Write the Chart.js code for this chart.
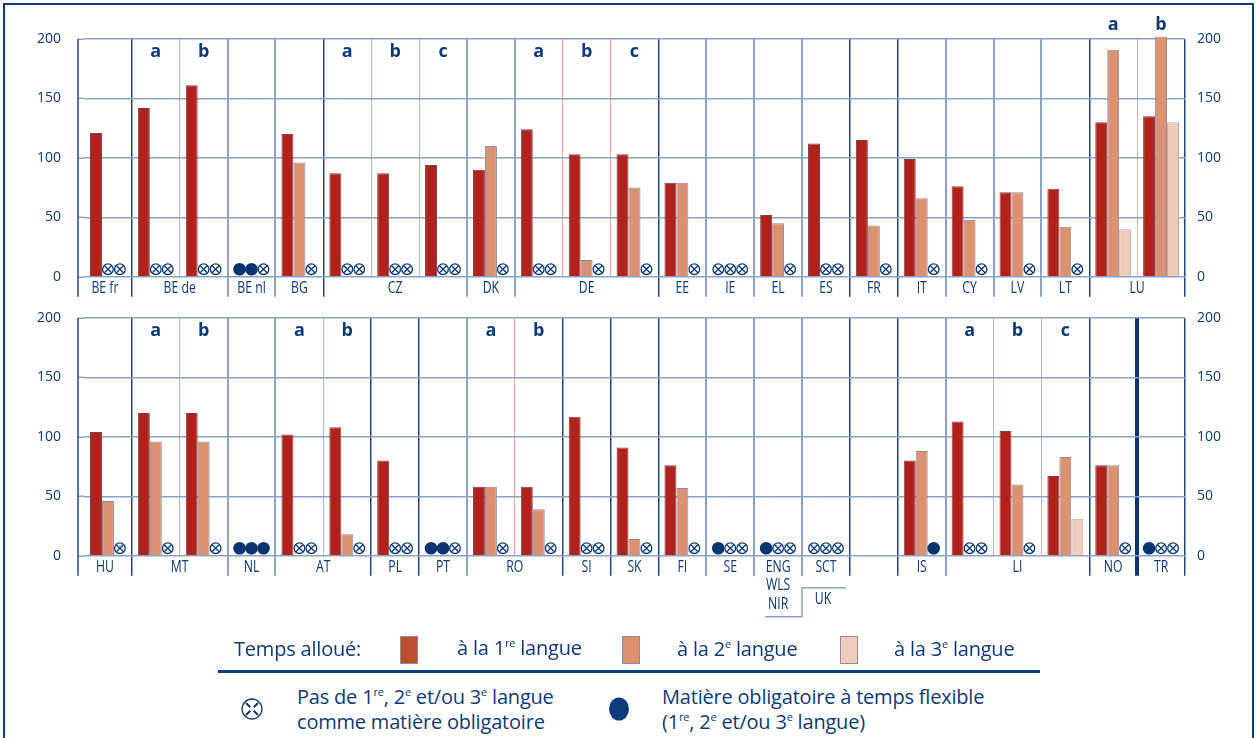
<!DOCTYPE html>
<html>
<head>
<meta charset="utf-8">
<script src="https://cdn.jsdelivr.net/npm/chart.js@4.4.1/dist/chart.umd.min.js"></script>
<style>
  body { margin: 0; background: #fff; }
  #page { position: relative; width: 1257px; height: 738px; overflow: hidden; font-family: "Open Sans", sans-serif; color: #0d3b78; }
  #frame { position: absolute; left: 3px; top: 3px; width: 1247px; height: 800px; border: 2.5px solid #0b3d7b; }
  canvas { position: absolute; left: 0; }
  .lg { position: absolute; font-size: 20px; line-height: 25px; white-space: nowrap; letter-spacing: -0.2px; }
  .sw { position: absolute; width: 16px; height: 26px; border: 1px solid #9a8a8a; }
  sup { font-size: 11px; vertical-align: 8px; line-height: 0; }
</style>
</head>
<body>
<div id="page">
  <div id="frame"></div>
  <canvas id="topChart" width="1257" height="330" style="top:0"></canvas>
  <canvas id="bottomChart" width="1257" height="360" style="top:279px"></canvas>

  <div class="lg" style="left:234px; top:636px;">Temps alloué:</div>
  <div class="sw" style="left:400px; top:636px; background:#bc4f2f;"></div>
  <div class="lg" style="left:457px; top:635px;">à la 1<sup>re</sup> langue</div>
  <div class="sw" style="left:622px; top:636px; background:#dc9070;"></div>
  <div class="lg" style="left:677px; top:636px;">à la 2<sup>e</sup> langue</div>
  <div class="sw" style="left:840px; top:636px; background:#f0cdbd;"></div>
  <div class="lg" style="left:894px; top:636px;">à la 3<sup>e</sup> langue</div>
  <div style="position:absolute; left:218px; top:670px; width:822px; height:2.5px; background:#0b3d7b;"></div>

  <svg style="position:absolute; left:240px; top:697px;" width="24" height="24" viewBox="0 0 24 24">
    <circle cx="12" cy="12" r="10" fill="none" stroke="#0d3b78" stroke-width="1.3"/>
    <path d="M6 6 L10.3 10.3 M13.7 13.7 L18 18 M18 6 L13.7 10.3 M10.3 13.7 L6 18" stroke="#0d3b78" stroke-width="2"/>
  </svg>
  <div class="lg" style="left:297px; top:684px;">Pas de 1<sup>re</sup>, 2<sup>e</sup> et/ou 3<sup>e</sup> langue<br>comme matière obligatoire</div>
  <svg style="position:absolute; left:608px; top:697px;" width="22" height="24" viewBox="0 0 22 24">
    <ellipse cx="11" cy="12" rx="10" ry="11.5" fill="#0b3d7b"/>
  </svg>
  <div class="lg" style="left:662px; top:684px;">Matière obligatoire à temps flexible<br>(1<sup>re</sup>, 2<sup>e</sup> et/ou 3<sup>e</sup> langue)</div>
</div>

<script>
// ---- data: top panel ----
const yTicks = [0, 50, 100, 150, 200];

const topSlots = ['BE fr', 'BE de a', 'BE de b', 'BE nl', 'BG', 'CZ a', 'CZ b', 'CZ c', 'DK', 'DE a', 'DE b', 'DE c',
                  'EE', 'IE', 'EL', 'ES', 'FR', 'IT', 'CY', 'LV', 'LT', 'LU a', 'LU b'];
const topFirst  = [121, 142, 161, null, 120, 87, 87, 94, 90, 124, 103, 103, 79, null, 52, 112, 115, 99, 76, 71, 74, 130, 135];
const topSecond = [null, null, null, null, 96, null, null, null, 110, null, 14, 75, 79, null, 45, null, 43, 66, 48, 71, 42, 191, 202];
const topThird  = [null, null, null, null, null, null, null, null, null, null, null, null, null, null, null, null, null, null, null, null, null, 40, 130];
// x = not compulsory, o = flexible timetable, - = nothing
const topMarks  = ['-xx', '-xx', '-xx', 'oox', '--x', '-xx', '-xx', '-xx', '--x', '-xx', '--x', '--x',
                   '--x', 'xxx', '--x', '-xx', '--x', '--x', '--x', '--x', '--x', '---', '---'];
const topGroups = [['BE fr', 0, 0], ['BE de', 1, 2], ['BE nl', 3, 3], ['BG', 4, 4], ['CZ', 5, 7], ['DK', 8, 8], ['DE', 9, 11],
                   ['EE', 12, 12], ['IE', 13, 13], ['EL', 14, 14], ['ES', 15, 15], ['FR', 16, 16], ['IT', 17, 17],
                   ['CY', 18, 18], ['LV', 19, 19], ['LT', 20, 20], ['LU', 21, 22]];
// separators: n = navy, s = steel, p = pink (sub-column), T = thick
const topLines  = 'nnpssnppssppnsssnnsssnpn';

// ---- data: bottom panel ----
const botSlots  = ['HU', 'MT a', 'MT b', 'NL', 'AT a', 'AT b', 'PL', 'PT', 'RO a', 'RO b', 'SI', 'SK', 'FI', 'SE',
                   'ENG', 'SCT', '', 'IS', 'LI a', 'LI b', 'LI c', 'NO', 'TR'];
const botFirst  = [104, 120, 120, null, 102, 108, 80, null, 58, 58, 117, 91, 76, null, null, null, null, 80, 113, 105, 67, 76, null];
const botSecond = [46, 96, 96, null, null, 18, null, null, 58, 39, null, 14, 57, null, null, null, null, 88, null, 60, 83, 76, null];
const botThird  = [null, null, null, null, null, null, null, null, null, null, null, null, null, null, null, null, null, null, null, null, 31, null, null];
const botMarks  = ['--x', '--x', '--x', 'ooo', '-xx', '--x', '-xx', 'oox', '--x', '--x', '-xx', '--x', '--x', 'oxx',
                   'oxx', 'xxx', '---', '--o', '-xx', '--x', '---', '--x', 'oxx'];
const botGroups = [['HU', 0, 0], ['MT', 1, 2], ['NL', 3, 3], ['AT', 4, 5], ['PL', 6, 6], ['PT', 7, 7], ['RO', 8, 9],
                   ['SI', 10, 10], ['SK', 11, 11], ['FI', 12, 12], ['SE', 13, 13], ['ENG\nWLS\nNIR', 14, 14],
                   ['SCT', 15, 15], ['IS', 17, 17], ['LI', 18, 20], ['NO', 21, 21], ['TR', 22, 22]];
const botLines  = 'nnpsspnnspnnnsssnnsppnTn';

const NAVY = '#0d3b78';
const GRID = '#8aa3c8';
const NONE = 'rgba(0,0,0,0)';
const lineStyle = {
    n: { color: '#1f4682', width: 1.5, tick: true },
    s: { color: GRID, width: 2, tick: true },
    p: { color: '#eaa7a7', width: 1, tick: false },
    T: { color: '#0b3470', width: 4, tick: true }
};
const PLOT_TOP = 39;
const PLOT_H = 237.7;
const LEFT_GAP = 6;   // first column is a little wider than the others

function sepStyle(lines, idx) {
    if (idx === 0) return { color: NONE, width: 0, tick: false };
    const key = (idx === undefined || idx >= lines.length) ? lines[lines.length - 1] : lines[idx];
    return lineStyle[key];
}

function drawCross(ctx, x, y) {
    ctx.save();
    ctx.strokeStyle = NAVY;
    ctx.lineWidth = 1.3;
    ctx.fillStyle = '#fff';
    ctx.beginPath();
    ctx.arc(x, y, 5.3, 0, Math.PI * 2);
    ctx.fill();
    ctx.stroke();
    const d = 3.5;
    ctx.beginPath();
    ctx.moveTo(x - d, y - d); ctx.lineTo(x + d, y + d);
    ctx.moveTo(x + d, y - d); ctx.lineTo(x - d, y + d);
    ctx.stroke();
    ctx.restore();
}

function drawDot(ctx, x, y) {
    ctx.save();
    ctx.fillStyle = '#0b3470';
    ctx.beginPath();
    ctx.arc(x, y, 6.3, 0, Math.PI * 2);
    ctx.fill();
    ctx.restore();
}

// narrow label text, squeezed horizontally like the condensed face of the original
function narrowText(ctx, text, x, y) {
    ctx.save();
    ctx.translate(x, y);
    ctx.scale(0.72, 1);
    ctx.fillText(text, 0, 0);
    ctx.restore();
}

function decorPlugin(cfg) {
    return {
        id: 'decor',
        beforeDatasetsDraw(chart) {
            // widen the first column: extend the horizontal grid and move the left edge line
            const { ctx, chartArea, scales: { y } } = chart;
            const lx = chartArea.left - LEFT_GAP;
            ctx.save();
            ctx.strokeStyle = GRID;
            ctx.lineWidth = 1.5;
            yTicks.forEach(v => {
                const py = Math.round(y.getPixelForValue(v)) + 0.25;
                ctx.beginPath();
                ctx.moveTo(lx, py);
                ctx.lineTo(chartArea.left, py);
                ctx.stroke();
            });
            ctx.strokeStyle = lineStyle.n.color;
            ctx.lineWidth = lineStyle.n.width;
            ctx.beginPath();
            ctx.moveTo(lx, chartArea.top);
            ctx.lineTo(lx, chartArea.bottom + 20);
            ctx.stroke();
            ctx.restore();
        },
        afterDatasetsDraw(chart) {
            const { ctx, chartArea, scales: { x, y } } = chart;
            const base = y.getPixelForValue(0);
            const slotW = x.getPixelForValue(1) - x.getPixelForValue(0);
            const barW = slotW * 0.75 / 3;

            // symbols at the foot of the missing bars
            cfg.marks.forEach((m, i) => {
                for (let k = 0; k < 3; k++) {
                    const cx = x.getPixelForValue(i) + (k - 1) * barW;
                    if (m[k] === 'x') drawCross(ctx, cx, base - 7.5);
                    else if (m[k] === 'o') drawDot(ctx, cx, base - 7.5);
                }
            });

            // sub-column letters a / b / c
            ctx.save();
            ctx.fillStyle = NAVY;
            ctx.font = 'bold 18px "Open Sans", sans-serif';
            ctx.textAlign = 'center';
            ctx.textBaseline = 'middle';
            cfg.slots.forEach((s, i) => {
                const m = s.match(/ ([abc])$/);
                if (!m) return;
                const tall = Math.max(cfg.first[i] || 0, cfg.second[i] || 0, cfg.third[i] || 0) > 170;
                const ly = tall ? chartArea.top - 14 : chartArea.top + 13;
                ctx.fillText(m[1], x.getPixelForValue(i), ly);
            });

            // country labels
            ctx.font = '17px "Open Sans", sans-serif';
            cfg.groups.forEach(([name, a, b]) => {
                let left = x.getPixelForValue(a) - slotW / 2;
                if (a === 0) left -= LEFT_GAP;
                const right = x.getPixelForValue(b) + slotW / 2;
                const cx = (left + right) / 2;
                name.split('\n').forEach((line, j) => {
                    narrowText(ctx, line, cx, chartArea.bottom + 11 + j * 18.5);
                });
            });

            // UK bracket
            if (cfg.bracket !== undefined) {
                const i = cfg.bracket;
                const bx = (x.getPixelForValue(i - 1) + x.getPixelForValue(i)) / 2;
                const top = chartArea.bottom + 32;
                const bot = chartArea.bottom + 61;
                ctx.strokeStyle = GRID;
                ctx.lineWidth = 1.5;
                ctx.beginPath();
                ctx.moveTo(bx + slotW - 4, top);
                ctx.lineTo(bx, top);
                ctx.lineTo(bx, bot);
                ctx.lineTo(bx - 37, bot);
                ctx.stroke();
                narrowText(ctx, 'UK', bx + 21, chartArea.bottom + 43);
            }
            ctx.restore();
        }
    };
}

function makePanel(id, cfg) {
    const canvas = document.getElementById(id);
    const axisH = canvas.height - PLOT_TOP - PLOT_H;
    const yAxis = (position, padding, width) => ({
        position: position,
        min: 0,
        max: 200,
        afterBuildTicks: s => { s.ticks = yTicks.map(v => ({ value: v })); },
        afterFit: s => { s.width = width; },
        border: { display: false },
        grid: { display: position === 'left', color: GRID, lineWidth: 1.5, drawTicks: false },
        ticks: { padding: padding, color: NAVY, font: { family: '"Open Sans", sans-serif', size: 14 } }
    });

    return new Chart(canvas, {
        type: 'bar',
        data: {
            labels: cfg.slots,
            datasets: [
                { data: cfg.first, backgroundColor: '#b2221a', borderColor: '#7a4050', borderWidth: 1, clip: false },
                { data: cfg.second, backgroundColor: '#dc9170', borderColor: '#8e8a9e', borderWidth: 1, clip: false },
                { data: cfg.third, backgroundColor: '#efcbb9', borderColor: '#b0aab8', borderWidth: 1, clip: false }
            ]
        },
        options: {
            responsive: false,
            animation: false,
            events: [],
            categoryPercentage: 0.75,
            barPercentage: 1,
            layout: { padding: { top: PLOT_TOP, left: 0, right: 0, bottom: 0 } },
            plugins: { legend: { display: false }, tooltip: { enabled: false } },
            scales: {
                x: {
                    offset: true,
                    border: { display: false },
                    ticks: { display: false },
                    afterFit: s => { s.height = axisH; },
                    grid: {
                        offset: true,
                        drawTicks: true,
                        tickLength: 20,
                        color: c => sepStyle(cfg.lines, c.index).color,
                        lineWidth: c => sepStyle(cfg.lines, c.index).width,
                        tickColor: c => {
                            const st = sepStyle(cfg.lines, c.index);
                            return st.tick ? st.color : NONE;
                        },
                        tickWidth: c => sepStyle(cfg.lines, c.index).width
                    }
                },
                y: yAxis('left', 17 + LEFT_GAP, 78 + LEFT_GAP),
                y2: yAxis('right', 12, 72)
            }
        },
        plugins: [decorPlugin(cfg)]
    });
}

makePanel('topChart', {
    slots: topSlots, first: topFirst, second: topSecond, third: topThird,
    marks: topMarks, groups: topGroups, lines: topLines
});
makePanel('bottomChart', {
    slots: botSlots, first: botFirst, second: botSecond, third: botThird,
    marks: botMarks, groups: botGroups, lines: botLines, bracket: 15
});
</script>
</body>
</html>
